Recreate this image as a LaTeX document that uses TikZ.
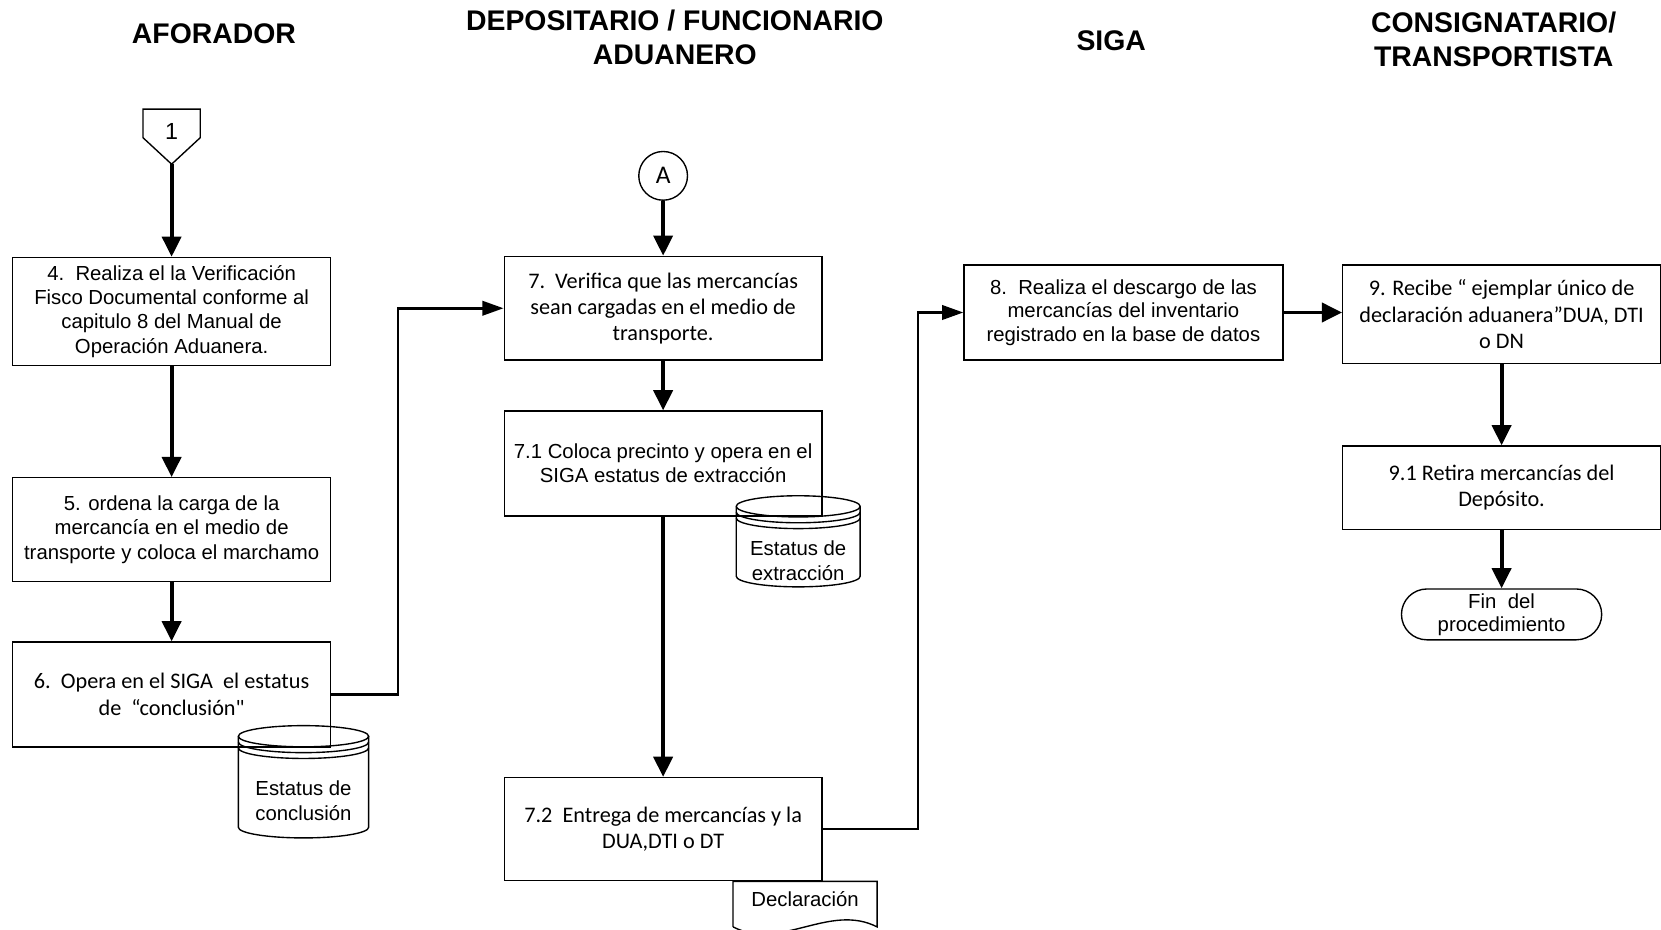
\documentclass[tikz,border=0pt]{standalone}
\usepackage{fontspec}
\setmainfont{Liberation Sans}
\newfontfamily\calibri{Carlito}
\usetikzlibrary{arrows.meta}

\tikzset{
  procbox/.style={draw, line width=0.65pt, minimum width=150pt, align=center, inner sep=2pt,
    font=\fontsize{9.6}{11.5}\selectfont},
  procboxc/.style={procbox, font=\calibri\fontsize{10.5}{12.3}\selectfont},
  lanehead/.style={align=center, font=\bfseries\fontsize{13.4}{16.2}\selectfont},
  dbtext/.style={align=center, inner sep=0pt, font=\fontsize{9.6}{11.8}\selectfont},
  shapeline/.style={line width=0.65pt},
  flowthick/.style={line width=1.8pt, -{Triangle[length=9.5pt,width=9pt]}},
  flowthin/.style={line width=1.2pt, -{Triangle[length=10pt,width=6.8pt]}},
}

\begin{document}
\begin{tikzpicture}[x=0.5pt, y=-0.5pt]
\useasboundingbox (0,0) rectangle (1568,877);

% lane headers
\node[lanehead] (hAfo) at (202,32) {AFORADOR};
\node[lanehead] (hDep) at (637,35) {DEPOSITARIO / FUNCIONARIO\\ADUANERO};
\node[lanehead] (hSiga) at (1049,38) {SIGA};
\node[lanehead] (hCons) at (1410,37) {CONSIGNATARIO/\\TRANSPORTISTA};

% off-page connector
\draw[shapeline] (135,103) -- (189,103) -- (189,130) -- (162,155) -- (135,130) -- cycle;
\node[font=\fontsize{11}{13}\selectfont] (off1) at (162,124) {1};
\coordinate (off1tip) at (162,155);

% AFORADOR
\node[procbox, minimum height=51pt] (p4) at (162,294)
{4.~~Realiza el la Verificación\\Fisco Documental conforme al\\capitulo 8 del Manual de\\Operación Aduanera.};

\node[procbox, minimum height=49pt] (p5) at (162,500)
{5. ordena la carga de la\\mercancía en el medio de\\transporte y coloca el marchamo};

\node[procboxc, minimum height=49.5pt] (p6) at (162,655.5)
{6.~~Opera en el SIGA~~el estatus\\de~~“conclusión"};

% data store: conclusion
\draw[shapeline] (225,695) arc[start angle=180, end angle=540, x radius=30.75pt, y radius=5pt];
\draw[shapeline] (225,700.5) arc[start angle=180, end angle=360, x radius=30.75pt, y radius=5pt];
\draw[shapeline] (225,706) arc[start angle=180, end angle=360, x radius=30.75pt, y radius=5pt];
\draw[shapeline] (225,695) -- (225,781) arc[start angle=180, end angle=360, x radius=30.75pt, y radius=5pt] -- (348,695);
\node[dbtext] (db6) at (286.5,756) {Estatus de\\conclusión};

% DEPOSITARIO / FUNCIONARIO ADUANERO
\node[draw, shapeline, circle, minimum size=23pt, inner sep=0pt, font=\calibri\fontsize{12}{14}\selectfont] (conA) at (626,166) {A};

\node[procboxc, minimum height=49pt] (p7) at (626,291)
{7.~~Verifica que las mercancías\\sean cargadas en el medio de\\transporte.};

\node[procbox, minimum height=49.5pt] (p71) at (626,437.5)
{7.1 Coloca precinto y opera en el\\SIGA estatus de extracción};

% data store: extraction
\draw[shapeline] (695,478) arc[start angle=180, end angle=540, x radius=29.25pt, y radius=5pt];
\draw[shapeline] (695,483.5) arc[start angle=180, end angle=360, x radius=29.25pt, y radius=5pt];
\draw[shapeline] (695,489) arc[start angle=180, end angle=360, x radius=29.25pt, y radius=5pt];
\draw[shapeline] (695,478) -- (695,544) arc[start angle=180, end angle=360, x radius=29.25pt, y radius=5pt] -- (812,478);
\node[dbtext] (db71) at (753.5,529.5) {Estatus de\\extracción};

\node[procboxc, minimum height=48.5pt] (p72) at (626,782.5)
{7.2~~Entrega de mercancías y la\\DUA,DTI o DT};

% document
\draw[shapeline] (692,875) -- (692,832) -- (828,832) -- (828,875)
  .. controls (783,852) and (737,898) .. (692,875);
\node[font=\fontsize{9.6}{11.5}\selectfont] (docDecl) at (760,849) {Declaración};

% SIGA
\node[procbox, minimum width=150.5pt, minimum height=45pt, font=\fontsize{9.6}{11}\selectfont] (p8) at (1060.5,295)
{8.~~Realiza el descargo de las\\mercancías del inventario\\registrado en la base de datos};

% CONSIGNATARIO / TRANSPORTISTA
\node[procboxc, minimum height=46.5pt] (p9) at (1417.5,296.5)
{9. Recibe “ ejemplar único de\\declaración aduanera”DUA, DTI\\o DN};

\node[procboxc, minimum height=39.5pt] (p91) at (1417.5,460.5)
{9.1 Retira mercancías del\\Depósito.};

\node[draw, shapeline, rounded corners=12pt, minimum width=94.5pt, minimum height=24pt, align=center, inner sep=1pt,
  font=\fontsize{9.6}{11}\selectfont] (fin) at (1417.5,580)
{Fin~~del\\procedimiento};

% connectors
\draw[flowthick] (off1tip) -- (p4);
\draw[flowthick] (p4) -- (p5);
\draw[flowthick] (p5) -- (p6);
\draw[flowthin] (p6.east) -- ++(63,0) |- (p7.west);
\draw[flowthick] (conA) -- (p7);
\draw[flowthick] (p7) -- (p71);
\draw[flowthick] (p71) -- (p72);
\draw[flowthin] (p72.east) -- ++(90,0) |- (p8.west);
\draw[flowthick] (p8.east) -- (p8.east -| p9.west);
\draw[flowthick] (p9) -- (p91);
\draw[flowthick] (p91) -- (fin);
\end{tikzpicture}
\end{document}
